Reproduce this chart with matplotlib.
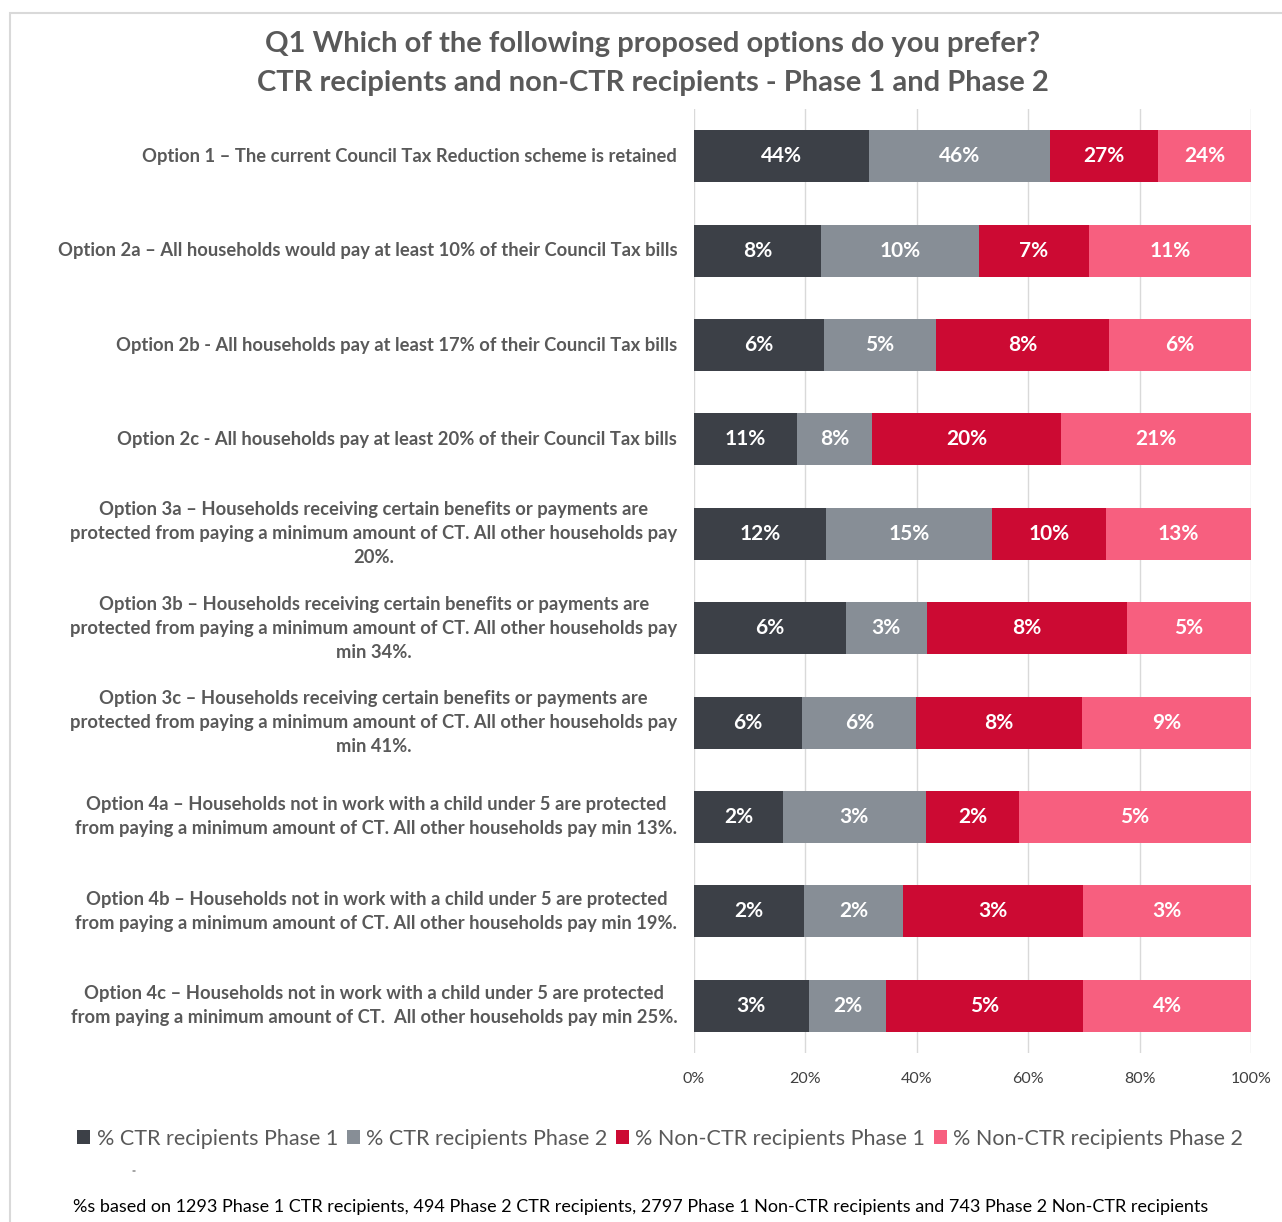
import matplotlib
matplotlib.use("Agg")
import matplotlib.pyplot as plt
import numpy as np
from matplotlib.patches import Rectangle

plt.rcParams['font.family'] = ['Lato', 'DejaVu Sans']

categories = [
    "Option 1 \u2013 The current Council Tax Reduction scheme is retained",
    "Option 2a \u2013 All households would pay at least 10% of their Council Tax bills",
    "Option 2b - All households pay at least 17% of their Council Tax bills",
    "Option 2c - All households pay at least 20% of their Council Tax bills",
    "Option 3a \u2013 Households receiving certain benefits or payments are\nprotected from paying a minimum amount of CT. All other households pay\n20%.",
    "Option 3b \u2013 Households receiving certain benefits or payments are\nprotected from paying a minimum amount of CT. All other households pay\nmin 34%.",
    "Option 3c \u2013 Households receiving certain benefits or payments are\nprotected from paying a minimum amount of CT. All other households pay\nmin 41%.",
    "Option 4a \u2013 Households not in work with a child under 5 are protected\nfrom paying a minimum amount of CT. All other households pay min 13%.",
    "Option 4b \u2013 Households not in work with a child under 5 are protected\nfrom paying a minimum amount of CT. All other households pay min 19%.",
    "Option 4c \u2013 Households not in work with a child under 5 are protected\nfrom paying a minimum amount of CT.  All other households pay min 25%.",
]
# percentages (estimated unrounded values; labels show them rounded)
ctr_p1 = [44.4, 8.4, 5.7, 11.2, 12.0, 6.0, 5.5, 2.0, 1.9, 2.8]
ctr_p2 = [45.8, 10.4, 4.9, 8.1, 15.0, 3.2, 5.8, 3.2, 1.7, 1.9]
non_p1 = [27.2, 7.3, 7.6, 20.4, 10.4, 7.9, 8.4, 2.1, 3.1, 4.8]
non_p2 = [23.6, 10.7, 6.2, 20.6, 13.1, 4.9, 8.6, 5.2, 2.9, 4.1]
series_names = ["% CTR recipients Phase 1", "% CTR recipients Phase 2",
                "% Non-CTR recipients Phase 1", "% Non-CTR recipients Phase 2"]
colors = ["#3C4047", "#878E96", "#CC0A33", "#F75F7F"]
xticks = [0, 20, 40, 60, 80, 100]

fig = plt.figure(figsize=(12.82, 12.22), dpi=100)
ax = fig.add_axes([0.5413, 0.1383, 0.4345, 0.7725])

data = np.array([ctr_p1, ctr_p2, non_p1, non_p2], dtype=float)
totals = data.sum(axis=0)
shares = data / totals * 100
y = np.arange(len(categories))
left = np.zeros(len(categories))
for i in range(4):
    bars = ax.barh(y, shares[i], left=left, height=0.55, color=colors[i],
                   label=series_names[i], zorder=3)
    for j, b in enumerate(bars):
        ax.text(left[j] + shares[i][j] / 2, y[j], f"{int(round(data[i][j]))}%",
                ha='center', va='center', color='white', fontsize=15,
                fontweight='bold', zorder=4)
    left += shares[i]

ax.set_ylim(len(categories) - 0.5, -0.5)
ax.set_xlim(0, 100)
ax.set_xticks(xticks)
ax.set_xticklabels([f"{t}%" for t in xticks], fontsize=11.5, color="#404040")
ax.set_yticks(y)
ax.set_yticklabels(categories, fontsize=13.2, fontweight='bold', color="#595959",
                   multialignment='center', linespacing=1.5, va='center')
ax.tick_params(axis='both', length=0)
ax.tick_params(axis='y', pad=12)
ax.tick_params(axis='x', pad=14)
ax.grid(axis='x', color="#D9D9D9", linewidth=1, zorder=0)
for s in ax.spines.values():
    s.set_visible(False)

fig.text(0.509, 0.964, "Q1 Which of the following proposed options do you prefer?",
         ha='center', va='center', fontsize=21, fontweight='bold', color="#595959")
fig.text(0.509, 0.932, "CTR recipients and non-CTR recipients - Phase 1 and Phase 2",
         ha='center', va='center', fontsize=21, fontweight='bold', color="#595959")

handles, labels = ax.get_legend_handles_labels()
fig.legend(handles, labels, loc='center', bbox_to_anchor=(0.515, 0.068), ncol=4,
           frameon=False, fontsize=15.5, handlelength=0.6, handleheight=0.6,
           handletextpad=0.3, columnspacing=0.4, labelcolor="#595959")

fig.text(0.104, 0.042, "=", fontsize=5, color="#595959", ha='center', va='center')
fig.text(0.057, 0.012, "%s based on 1293 Phase 1 CTR recipients, 494 Phase 2 CTR recipients, "
         "2797 Phase 1 Non-CTR recipients and 743 Phase 2 Non-CTR recipients",
         ha='left', va='center', fontsize=13, color="#000000")

fig.add_artist(Rectangle((10 / 1282, -0.01), 1.1, 1 - 13 / 1222 + 0.01,
                         transform=fig.transFigure, fill=False,
                         edgecolor="#D9D9D9", linewidth=1.5))

fig.savefig("out.png", dpi=100)
